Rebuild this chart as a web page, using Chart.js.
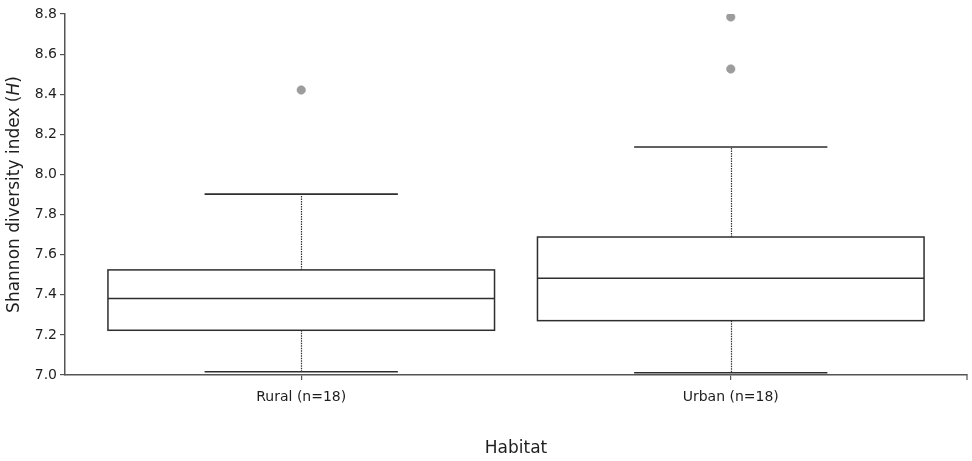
<!DOCTYPE html>
<html>
<head>
<meta charset="utf-8">
<title>Shannon diversity by habitat</title>
<script src="https://cdn.jsdelivr.net/npm/chart.js@4/dist/chart.umd.min.js"></script>
<style>
  html, body { margin: 0; padding: 0; background: #ffffff; }
  #wrap { width: 972px; height: 461px; }
</style>
</head>
<body>
<div id="wrap"><canvas id="chart" width="972" height="461"></canvas></div>
<script>
// Habitat groups and their five-number summaries (Shannon H)
const habitats = ['Rural (n=18)', 'Urban (n=18)'];
const whiskerLow = [7.016, 7.011];
const quartile1 = [7.223, 7.271];
const medians = [7.382, 7.482];
const quartile3 = [7.524, 7.688];
const whiskerHigh = [7.902, 8.137];
// Points beyond the whiskers
const outliersRural = [8.421];
const outliersUrban = [8.526, 8.785];
// Value axis
const yMin = 7.0;
const yMax = 8.8;
const yStep = 0.2;

const FONT = "'DejaVu Sans', 'Liberation Sans', sans-serif";
const AXIS_COLOR = '#555555';
const BOX_COLOR = '#2e2e2e';
const BOX_HALF = 0.45;   // half box width in category units
const CAP_HALF = 0.225;  // half whisker-cap width

const outlierPoints = [];
outliersRural.forEach(v => outlierPoints.push({ x: 1, y: v }));
outliersUrban.forEach(v => outlierPoints.push({ x: 2, y: v }));

// Box-and-whisker drawing through the chart's scales
const boxPlotPlugin = {
  id: 'boxPlot',
  beforeDatasetsDraw(chart) {
    const { ctx, scales: { x, y } } = chart;
    ctx.save();
    habitats.forEach((name, i) => {
      const pos = i + 1;
      const xl = x.getPixelForValue(pos - BOX_HALF);
      const xr = x.getPixelForValue(pos + BOX_HALF);
      const xc = x.getPixelForValue(pos);
      const cl = x.getPixelForValue(pos - CAP_HALF);
      const cr = x.getPixelForValue(pos + CAP_HALF);
      const yLo = y.getPixelForValue(whiskerLow[i]);
      const yQ1 = y.getPixelForValue(quartile1[i]);
      const yMed = y.getPixelForValue(medians[i]);
      const yQ3 = y.getPixelForValue(quartile3[i]);
      const yHi = y.getPixelForValue(whiskerHigh[i]);

      // dotted whisker stems
      ctx.strokeStyle = '#333333';
      ctx.lineWidth = 1.2;
      ctx.setLineDash([1.5, 1]);
      ctx.beginPath();
      ctx.moveTo(Math.round(xc) + 0.5, yQ3);
      ctx.lineTo(Math.round(xc) + 0.5, yHi);
      ctx.moveTo(Math.round(xc) + 0.5, yQ1);
      ctx.lineTo(Math.round(xc) + 0.5, yLo);
      ctx.stroke();
      ctx.setLineDash([]);

      // whisker caps
      ctx.strokeStyle = BOX_COLOR;
      ctx.lineWidth = 1.6;
      ctx.beginPath();
      ctx.moveTo(cl, yHi);
      ctx.lineTo(cr, yHi);
      ctx.moveTo(cl, yLo);
      ctx.lineTo(cr, yLo);
      ctx.stroke();

      // box and median
      ctx.fillStyle = '#ffffff';
      ctx.fillRect(xl, yQ3, xr - xl, yQ1 - yQ3);
      ctx.lineWidth = 1.5;
      ctx.strokeRect(xl, yQ3, xr - xl, yQ1 - yQ3);
      ctx.beginPath();
      ctx.moveTo(xl, yMed);
      ctx.lineTo(xr, yMed);
      ctx.stroke();
    });
    ctx.restore();
  },
  afterDraw(chart) {
    const { ctx, chartArea } = chart;
    ctx.save();
    // end mark on the right of the horizontal axis
    ctx.strokeStyle = AXIS_COLOR;
    ctx.lineWidth = 1.2;
    ctx.beginPath();
    ctx.moveTo(chartArea.right, chartArea.bottom - 1);
    ctx.lineTo(chartArea.right, chartArea.bottom + 5);
    ctx.stroke();

    // axis titles
    ctx.fillStyle = '#1e1e1e';
    ctx.font = `17px ${FONT}`;
    ctx.textAlign = 'center';
    ctx.textBaseline = 'middle';
    ctx.fillText('Habitat', (chartArea.left + chartArea.right) / 2, 449);

    // y title with italic H
    const parts = [
      { t: 'Shannon diversity index (', f: `17px ${FONT}` },
      { t: 'H', f: `italic 17px ${FONT}` },
      { t: ')', f: `17px ${FONT}` }
    ];
    let total = 0;
    parts.forEach(p => { ctx.font = p.f; p.w = ctx.measureText(p.t).width; total += p.w; });
    ctx.translate(15, (chartArea.top + chartArea.bottom) / 2);
    ctx.rotate(-Math.PI / 2);
    ctx.textAlign = 'left';
    let cx = -total / 2;
    parts.forEach(p => { ctx.font = p.f; ctx.fillText(p.t, cx, 0); cx += p.w; });
    ctx.restore();
  }
};

new Chart(document.getElementById('chart'), {
  type: 'scatter',
  data: {
    datasets: [{
      label: 'Outliers',
      data: outlierPoints,
      pointRadius: 4.3,
      pointHoverRadius: 4.3,
      pointBackgroundColor: '#9c9c9c',
      pointBorderColor: '#9c9c9c',
      pointBorderWidth: 0.5
    }]
  },
  options: {
    responsive: false,
    animation: false,
    layout: { padding: { top: 14, right: 5, left: 0, bottom: 0 } },
    plugins: {
      legend: { display: false },
      tooltip: { enabled: false }
    },
    scales: {
      x: {
        type: 'linear',
        min: 0.45,
        max: 2.55,
        afterBuildTicks(scale) {
          scale.ticks = habitats.map((_, i) => ({ value: i + 1 }));
        },
        afterFit(scale) { scale.height = 86; },
        grid: {
          drawOnChartArea: false,
          drawTicks: true,
          tickLength: 5,
          color: AXIS_COLOR,
          lineWidth: 1.2
        },
        border: { display: true, color: AXIS_COLOR, width: 1.5 },
        ticks: {
          autoSkip: false,
          maxRotation: 0,
          padding: 9,
          color: '#1e1e1e',
          font: { family: FONT, size: 14 },
          callback: (v) => habitats[Math.round(v) - 1] || ''
        }
      },
      y: {
        type: 'linear',
        min: yMin,
        max: yMax,
        afterFit(scale) { scale.width = 65; },
        grid: {
          drawOnChartArea: false,
          drawTicks: true,
          tickLength: 5,
          color: AXIS_COLOR,
          lineWidth: 1.2
        },
        border: { display: true, color: AXIS_COLOR, width: 1.5 },
        ticks: {
          stepSize: yStep,
          padding: 3,
          color: '#1e1e1e',
          font: { family: FONT, size: 14 },
          callback: (v) => Number(v).toFixed(1)
        }
      }
    }
  },
  plugins: [boxPlotPlugin]
});
</script>
</body>
</html>
